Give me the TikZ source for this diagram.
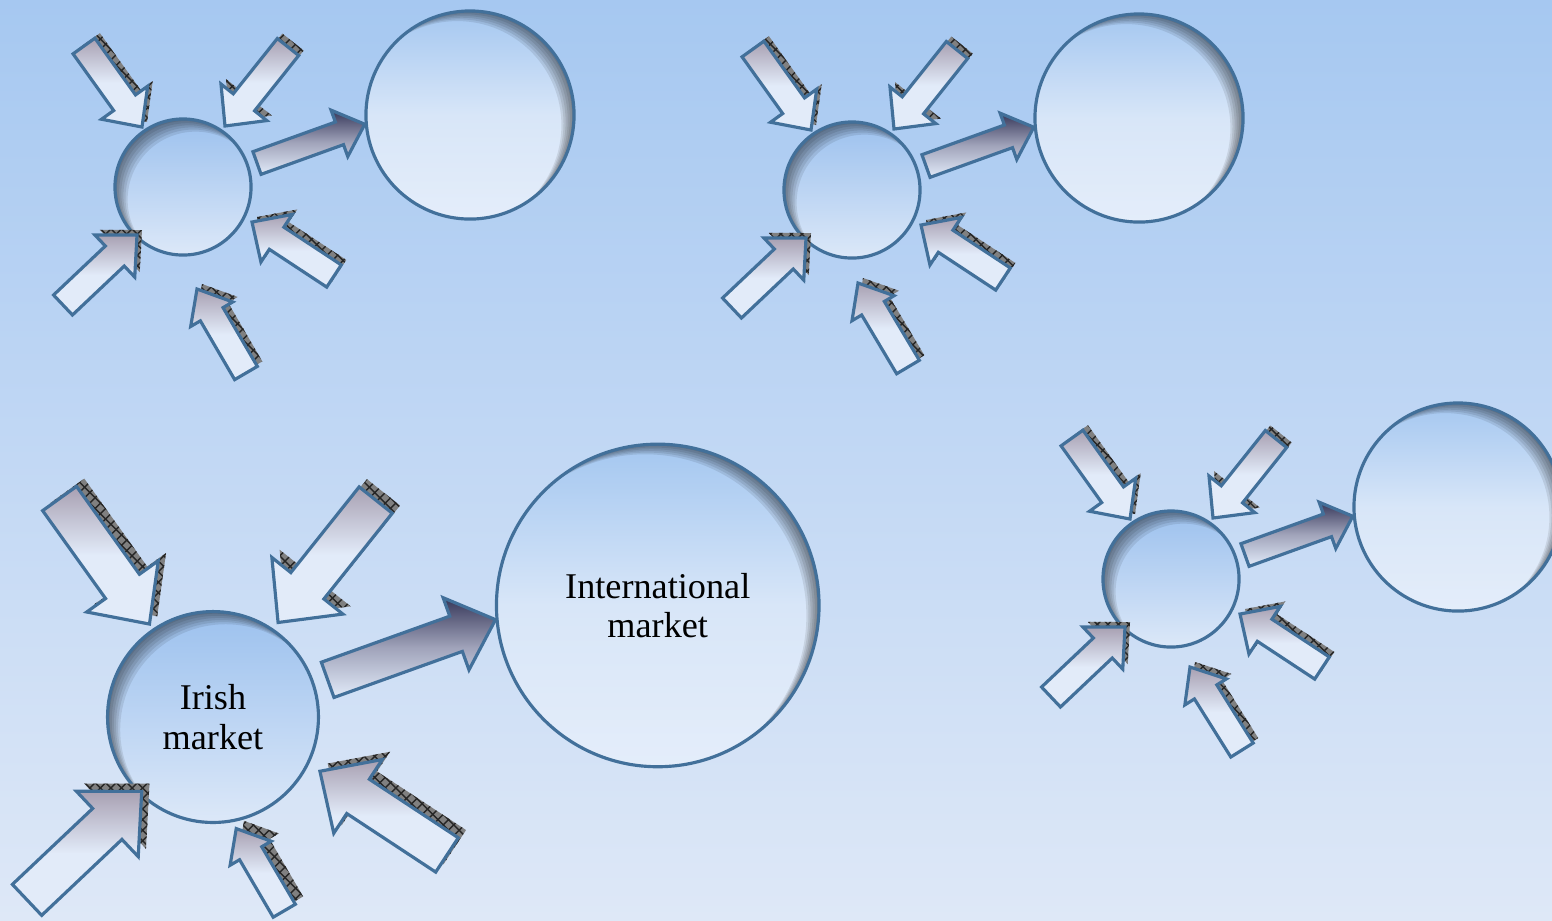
\documentclass[tikz,border=0pt]{standalone}
\usepackage{fontspec}
\setmainfont{Liberation Serif}
\usetikzlibrary{calc,patterns}

\definecolor{bgtop}{RGB}{166,200,241}
\definecolor{bgbot}{RGB}{222,232,247}
\definecolor{rim}{RGB}{66,112,154}
\definecolor{hometop}{RGB}{156,193,238}
\definecolor{homebot}{RGB}{220,232,248}
\definecolor{abroadtop}{RGB}{164,199,240}
\definecolor{abroadmid}{RGB}{216,230,248}
\definecolor{abroadbot}{RGB}{228,237,250}
\definecolor{arrowtop}{RGB}{168,160,178}
\definecolor{arrowlight}{RGB}{226,235,249}
\definecolor{outtop}{RGB}{54,55,89}
\definecolor{outmid}{RGB}{160,163,186}

\newcommand{\mktfont}{\fontsize{10.3}{11.2}\selectfont}

\tikzset{
    home/.style={circle, draw=rim, line width=0.9pt, inner sep=0pt, minimum size=#1,
        align=center, font=\mktfont, top color=hometop, bottom color=homebot,
        path picture={\foreach \rr in {0.6,1.2,...,3.6}
            \fill[black, opacity=0.09, even odd rule]
                (path picture bounding box.south west) rectangle (path picture bounding box.north east)
                ([shift={(\rr pt,-\rr pt)}]path picture bounding box.center) circle [radius=#1/2];}},
    abroad/.style={circle, draw=rim, line width=0.9pt, inner sep=0pt, minimum size=#1,
        align=center, font=\mktfont, top color=abroadtop, bottom color=abroadbot, middle color=abroadmid,
        path picture={\foreach \rr in {0.6,1.2,...,3.6}
            \fill[black, opacity=0.09, even odd rule]
                (path picture bounding box.south west) rectangle (path picture bounding box.north east)
                ([shift={(-\rr pt,-0.8*\rr pt)}]path picture bounding box.center) circle [radius=#1/2];}},
    inarrow/.style={draw=rim, line width=0.9pt, top color=arrowtop, bottom color=arrowlight, middle color=arrowlight},
    outarrow/.style={draw=rim, line width=0.9pt, top color=outtop, bottom color=arrowlight, middle color=outmid},
    shadowarrow/.style={fill=black!50, postaction={pattern=crosshatch, pattern color=black!85},
        transform canvas={shift={(5,-5)}}}
}

% block arrow: style, tail, tip, shaft half width, head half width, head length (parts of the length)
\newcommand{\blockarrow}[6]{%
    \path[#1] ($(#2)!#4!90:(#3)$)
        -- ($(#3)!#6!(#2) + (#2)!#4!90:(#3) - (#2)$)
        -- ($(#3)!#6!(#2) + (#2)!#5!90:(#3) - (#2)$)
        -- (#3)
        -- ($(#3)!#6!(#2) + (#2)!#5!-90:(#3) - (#2)$)
        -- ($(#3)!#6!(#2) + (#2)!#4!-90:(#3) - (#2)$)
        -- ($(#2)!#4!-90:(#3)$) -- cycle;}

% [bottom arrow tail/tip]{name}{x}{y}{scale}{home text}{abroad text}
\newcommand{\marketgroup}[7][63/186/14/102]{%
    \pgfmathsetmacro{\grpunit}{0.01*#5}
    \pgfmathsetmacro{\homesize}{1.36*#5}
    \pgfmathsetmacro{\abroadsize}{2.08*#5}
    \begin{scope}[shift={(#3,#4)}, x=\grpunit cm, y=-\grpunit cm]
        \node[home=\homesize cm] (#2-home) at (0,0) {#6};
        \node[abroad=\abroadsize cm] (#2-intl) at (287,-72) {#7};

        \foreach \arr/\tx/\ty/\px/\py in {a/-99/-141/-41/-60, b/105/-140/42/-61,
                d/151/89/69/35, e/#1, f/-120/118/-46/48}{
            \coordinate (#2-\arr t) at (\tx,\ty);
            \coordinate (#2-\arr p) at (\px,\py);
        }
        \coordinate (#2-out) at (74,-24);

        \foreach \arr/\hw in {a/.285, b/.29, d/.29, e/.25, f/.285}{
            \blockarrow{shadowarrow}{#2-\arr t}{#2-\arr p}{.135}{\hw}{.3}
            \blockarrow{inarrow}{#2-\arr t}{#2-\arr p}{.135}{\hw}{.3}
        }
        \blockarrow{outarrow}{#2-out}{#2-intl.185}{.105}{.215}{.235}
    \end{scope}}

\begin{document}
\begin{tikzpicture}[x=0.01cm, y=-0.01cm]
    \useasboundingbox (0,0) rectangle (1552,920);
    \clip (0,0) rectangle (1552,920);
    \shade[top color=bgtop, bottom color=bgbot] (0,0) rectangle (1552,920);

    \marketgroup[46/125/15/72]{g1}{213}{717}{1.55}{Irish\\market}{International\\market}
    \marketgroup{g2}{183}{187}{1}{}{}
    \marketgroup[56/177/6/93]{g3}{852}{190}{1}{}{}
    \marketgroup[71/171/19/88]{g4}{1171}{579}{1}{}{}
\end{tikzpicture}
\end{document}
